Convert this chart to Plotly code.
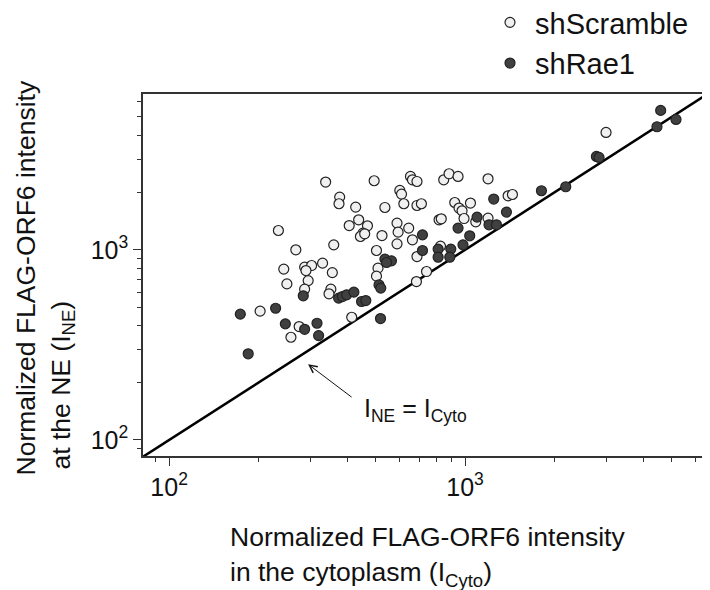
import plotly.graph_objects as go

# shScramble (open circles): cytoplasm intensity, NE intensity
scr_cyto = [338, 493, 654, 664, 688, 847, 883, 947, 1196, 377, 375, 427, 536, 602, 610, 621,
            688, 712, 437, 406, 468, 452, 443, 458, 524, 589, 645, 594, 664, 589, 817, 831,
            923, 1043, 954, 977, 992, 1087, 1196, 1398, 1446, 2995, 234, 360, 268, 502, 688,
            826, 741, 685, 330, 244, 287, 303, 290, 356, 508, 502, 250, 295, 287, 352, 347,
            203, 275, 258, 414]
scr_ne = [2272, 2308, 2431, 2335, 2288, 2335, 2512, 2431, 2364, 1894, 1747, 1677, 1670, 2052, 1964, 1747,
          1711, 1747, 1438, 1342, 1338, 1224, 1175, 1214, 1189, 1382, 1301, 1239, 1129, 1075, 1438, 1456,
          1774, 1762, 1658, 1604, 1461, 1404, 1468, 1924, 1954, 4143, 1264, 1062, 1000, 992, 922,
          1046, 769, 681, 851, 792, 811, 827, 778, 759, 801, 727, 662, 689, 621, 621, 587,
          476, 395, 347, 442]

# shRae1 (filled circles)
rae_cyto = [4582, 4452, 5162, 2779, 2836, 2189, 1812, 1250, 1380, 1098, 1205, 1277, 947, 1037,
            718, 984, 811, 895, 718, 811, 888, 536, 564, 543, 512, 519, 284, 374, 385, 398,
            421, 447, 462, 174, 229, 247, 287, 316, 320, 518, 185]
rae_ne = [5410, 4440, 4851, 3098, 3061, 2146, 2045, 1849, 1579, 1486, 1354, 1354, 1301, 1185,
          1199, 1062, 1009, 1009, 992, 915, 915, 894, 875, 858, 654, 629, 573, 557, 568, 580,
          599, 535, 541, 459, 493, 408, 382, 411, 354, 435, 284]

identity = [70, 8000]
major_ticks = [100, 1000]
major_text = ["10<sup>2</sup>", "10<sup>3</sup>"]
minor_ticks = [90, 200, 300, 400, 500, 600, 700, 800, 900, 2000, 3000, 4000, 5000, 6000]

FONT = "Liberation Sans, Arial, sans-serif"
TXT = "#111111"

fig = go.Figure()
fig.add_trace(go.Scatter(x=identity, y=identity, mode="lines",
                         line=dict(color="black", width=2.5), showlegend=False, hoverinfo="skip"))
fig.add_trace(go.Scatter(x=scr_cyto, y=scr_ne, mode="markers", name="shScramble",
                         marker=dict(size=10, color="#f0f0f0", line=dict(color="#222222", width=1.2))))
fig.add_trace(go.Scatter(x=rae_cyto, y=rae_ne, mode="markers", name="shRae1",
                         marker=dict(size=10, color="#404040", line=dict(color="#222222", width=1.2))))

axis_common = dict(type="log", showgrid=False, zeroline=False, showline=True, linecolor="#333333",
                   linewidth=1.5, mirror=True, ticks="outside", ticklen=8, tickwidth=1,
                   tickcolor="#333333", tickvals=major_ticks, ticktext=major_text,
                   tickfont=dict(family=FONT, size=25, color=TXT), automargin=False,
                   minor=dict(tickvals=minor_ticks, ticks="outside", ticklen=4, tickcolor="#333333"))

fig.update_xaxes(**axis_common, range=[1.9117, 3.8041])
fig.update_yaxes(**axis_common, range=[1.9158, 3.8195])

# The page body has an 8 px margin; the figure is sized so the plot area lands at
# left 143, top 94, right 703, bottom 456 of the window.
OFF = 8
FW, FH = 702, 582
W, H = 560.0, 362.0


def px(xp):
    return (xp - 143) / W


def py(yp):
    return (456 - yp) / H


title_font = dict(family=FONT, size=26.5, color=TXT)
# x-axis title, two left-aligned lines
fig.add_annotation(x=px(228), y=py(537), xref="paper", yref="paper", xanchor="left", yanchor="middle",
                   text="Normalized FLAG-ORF6 intensity", showarrow=False, font=title_font)
fig.add_annotation(x=px(228), y=py(574), xref="paper", yref="paper", xanchor="left", yanchor="middle",
                   text="in the cytoplasm (I<sub>Cyto</sub>)", showarrow=False, font=title_font)
# y-axis title, two lines (rotated), bottom-aligned
fig.add_annotation(x=px(25), y=py(478), xref="paper", yref="paper", xanchor="center", yanchor="bottom",
                   text="Normalized FLAG-ORF6 intensity", showarrow=False, textangle=-90, font=title_font)
fig.add_annotation(x=px(63), y=py(472), xref="paper", yref="paper", xanchor="center", yanchor="bottom",
                   text="at the NE (I<sub>NE</sub>)", showarrow=False, textangle=-90, font=title_font)

fig.add_annotation(x=2.4696, y=2.3984, xref="x", yref="y", text="", showarrow=True,
                   arrowhead=5, arrowsize=1.5, arrowwidth=1, arrowcolor=TXT, ax=45, ay=34)
fig.add_annotation(x=px(362), y=py(410), xref="paper", yref="paper", xanchor="left", yanchor="middle",
                   text="I<sub>NE</sub> = I<sub>Cyto</sub>", showarrow=False,
                   font=dict(family=FONT, size=25, color=TXT))

fig.update_layout(width=FW, height=FH,
                  margin=dict(l=143 - OFF, r=FW + OFF - 703, t=94 - OFF, b=FH + OFF - 456, autoexpand=False),
                  plot_bgcolor="white", paper_bgcolor="white",
                  font=dict(family=FONT, color=TXT),
                  legend=dict(x=px(485), y=py(-3), xanchor="left", yanchor="top",
                              font=dict(family=FONT, size=29, color=TXT), itemwidth=40,
                              bgcolor="rgba(0,0,0,0)", tracegroupgap=0))

fig.write_html("out.html")
